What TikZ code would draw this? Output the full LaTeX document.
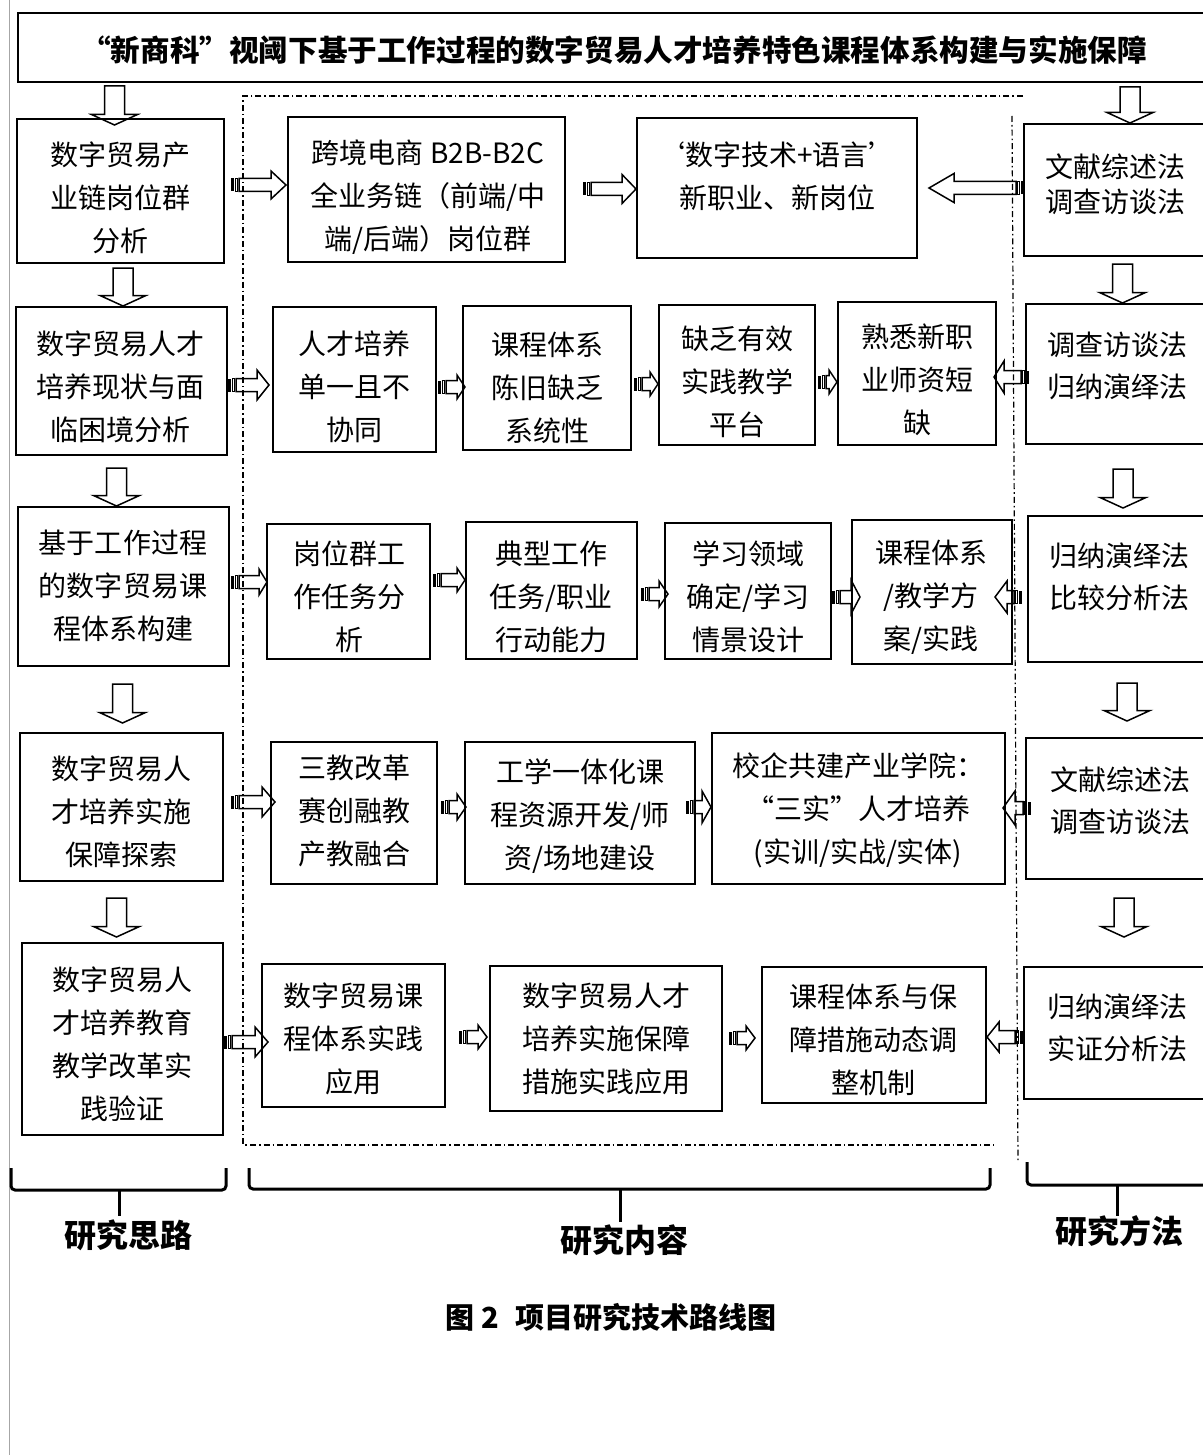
\documentclass[tikz,border=0pt]{standalone}
\usepackage{fontspec}
\setmainfont{Noto Sans CJK SC}
\usetikzlibrary{calc}
\newcommand\bx[5]{\node[box, minimum width={(#4-#2)*0.5pt}, minimum height={(#5-#3)*0.5pt}] (#1) at ({(#2+#4)/2},{(#3+#5)/2}) {};}
% down block arrow: src tgt xc topoff tipoff
\newcommand\darr[5]{%
 \path let \p1=(#1.south), \p2=(#2.north) in ({#3*0.5pt},{\y1-(#4)*0.5pt}) coordinate (s) ({#3*0.5pt},{\y2-(#5)*0.5pt}) coordinate (t);
 \draw[blk] ($(s)+(-10,0)$) -- ($(t)+(-10,-10.5)$) -- ($(t)+(-23,-10.5)$) -- (t) -- ($(t)+(23,-10.5)$) -- ($(t)+(10,-10.5)$) -- ($(s)+(10,0)$) -- cycle;}
% right striped arrow: src tgt y startoff tipoff hh hl
\newcommand\rarr[7]{%
 \path let \p1=(#1.east), \p2=(#2.west) in ({\x1+(#4)*0.5pt},{-(#3)*0.5pt}) coordinate (s) ({\x2+(#5)*0.5pt},{-(#3)*0.5pt}) coordinate (t);
 \fill ($(s)+(0,-6.5)$) rectangle ($(s)+(3,6.5)$);
 \draw[blk] ($(s)+(4.5,-6.5)$) rectangle ($(s)+(6.5,6.5)$);
 \draw[blk] ($(s)+(8,-6.5)$) -- ($(t)+(-#7,-6.5)$) -- ($(t)+(-#7,-#6)$) -- (t) -- ($(t)+(-#7,#6)$) -- ($(t)+(-#7,6.5)$) -- ($(s)+(8,6.5)$) -- cycle;}
% left striped arrow
\newcommand\larr[7]{%
 \path let \p1=(#1.west), \p2=(#2.east) in ({\x1+(#4)*0.5pt},{-(#3)*0.5pt}) coordinate (s) ({\x2+(#5)*0.5pt},{-(#3)*0.5pt}) coordinate (t);
 \fill ($(s)+(-3,-6.5)$) rectangle ($(s)+(0,6.5)$);
 \draw[blk] ($(s)+(-6.5,-6.5)$) rectangle ($(s)+(-4.5,6.5)$);
 \draw[blk] ($(s)+(-8,-6.5)$) -- ($(t)+(#7,-6.5)$) -- ($(t)+(#7,-#6)$) -- (t) -- ($(t)+(#7,#6)$) -- ($(t)+(#7,6.5)$) -- ($(s)+(-8,6.5)$) -- cycle;}
\begin{document}
\begin{tikzpicture}[x=0.5pt,y=-0.5pt,
  box/.style={draw=black, line width=1pt, inner sep=0pt},
  txt/.style={align=center, font=\fontsize{14pt}{21.5pt}\selectfont, inner sep=0pt},
  rtxt/.style={align=center, font=\fontsize{14pt}{21pt}\selectfont, inner sep=0pt},
  blk/.style={draw=black, line width=0.75pt, line join=miter},
  frame/.style={line width=0.6pt, dash pattern=on 3pt off 1.5pt on 0.8pt off 1.5pt},
  brace/.style={line width=1.5pt, rounded corners=2pt},
  lab/.style={font=\fontsize{16pt}{18pt}\selectfont\bfseries, inner sep=0pt}]
\useasboundingbox (0,0) rectangle (1203,1455);
\fill[white] (0,0) rectangle (1203,1455);
\clip (0,0) rectangle (1203,1455);
\draw[gray!70, line width=0.6pt] (9.5,0) -- (9.5,1455);

% dash-dot frame
\draw[frame] (1023,96) -- (243,96) -- (243,1145) -- (994,1145);
\draw[frame] (1012,116) -- (1018,1162);

% boxes
\bx{T}{18}{13}{1210}{82}
\bx{L1}{17}{119}{224}{263}
\bx{L2}{16}{307}{227}{455}
\bx{L3}{18}{507}{229}{666}
\bx{L4}{20}{733}{223}{881}
\bx{L5}{22}{943}{223}{1135}
\bx{M11}{288}{117}{565}{262}
\bx{M12}{637}{118}{917}{258}
\bx{M21}{273}{307}{436}{452}
\bx{M22}{463}{306}{631}{450}
\bx{M23}{659}{305}{815}{445}
\bx{M24}{838}{302}{996}{445}
\bx{M31}{267}{524}{430}{659}
\bx{M32}{466}{522}{637}{659}
\bx{M33}{665}{523}{831}{659}
\bx{M34}{852}{520}{1012}{664}
\bx{M41}{271}{742}{437}{884}
\bx{M42}{465}{742}{695}{884}
\bx{M43}{712}{733}{1005}{884}
\bx{M51}{262}{964}{445}{1107}
\bx{M52}{490}{966}{722}{1111}
\bx{M53}{762}{967}{986}{1103}
\bx{R1}{1024}{124}{1210}{256}
\bx{R2}{1026}{304}{1210}{444}
\bx{R3}{1028}{516}{1210}{662}
\bx{R4}{1026}{738}{1210}{879}
\bx{R5}{1024}{967}{1210}{1099}

% texts
\node[txt, font=\fontsize{14.8pt}{16pt}\selectfont\bfseries] (Tt) at (614,50) {“新商科”视阈下基于工作过程的数字贸易人才培养特色课程体系构建与实施保障};
\node[txt] (L1t) at (120,198) {数字贸易产\\业链岗位群\\分析};
\node[txt] (L2t) at (120,387) {数字贸易人才\\培养现状与面\\临困境分析};
\node[txt] (L3t) at (123,586) {基于工作过程\\的数字贸易课\\程体系构建};
\node[txt] (L4t) at (121,812) {数字贸易人\\才培养实施\\保障探索};
\node[txt] (L5t) at (122,1044) {数字贸易人\\才培养教育\\教学改革实\\践验证};
\node[txt] (M11t) at (428,197) {跨境电商 B2B-B2C\\全业务链（前端/中\\端/后端）岗位群};
\node[txt] (M12t) at (777,176) {‘数字技术+语言’\\新职业、新岗位};
\node[txt] (M21t) at (354,387) {人才培养\\单一且不\\协同};
\node[txt] (M22t) at (547,388) {课程体系\\陈旧缺乏\\系统性};
\node[txt] (M23t) at (737,382) {缺乏有效\\实践教学\\平台};
\node[txt] (M24t) at (917,380) {熟悉新职\\业师资短\\缺};
\node[txt] (M31t) at (349,597) {岗位群工\\作任务分\\析};
\node[txt] (M32t) at (551,597) {典型工作\\任务/职业\\行动能力};
\node[txt] (M33t) at (748,597) {学习领域\\确定/学习\\情景设计};
\node[txt] (M34t) at (931,597) {课程体系\\/教学方\\案/实践};
\node[txt] (M41t) at (354,811) {三教改革\\赛创融教\\产教融合};
\node[txt] (M42t) at (580,816) {工学一体化课\\程资源开发/师\\资/场地建设};
\node[txt] (M43t) at (858,810) {校企共建产业学院：\\“三实”人才培养\\(实训/实战/实体)};
\node[txt] (M51t) at (353,1039) {数字贸易课\\程体系实践\\应用};
\node[txt] (M52t) at (606,1039) {数字贸易人才\\培养实施保障\\措施实践应用};
\node[txt] (M53t) at (873,1040) {课程体系与保\\障措施动态调\\整机制};
\node[rtxt, font=\fontsize{14pt}{17.5pt}\selectfont] (R1t) at (1115,184) {文献综述法\\调查访谈法};
\node[rtxt] (R2t) at (1117,366) {调查访谈法\\归纳演绎法};
\node[rtxt] (R3t) at (1119,577) {归纳演绎法\\比较分析法};
\node[rtxt] (R4t) at (1120,801) {文献综述法\\调查访谈法};
\node[rtxt] (R5t) at (1117,1028) {归纳演绎法\\实证分析法};

% down arrows
\darr{T}{L1}{114.5}{3}{7}
\darr{L1}{L2}{123}{4}{0}
\darr{L2}{L3}{116.5}{12}{0}
\darr{L3}{L4}{122.5}{17}{-9}
\darr{L4}{L5}{116.5}{16}{-5}
\darr{T}{R1}{1130}{4}{0}
\darr{R1}{R2}{1122.5}{7}{0}
\darr{R2}{R3}{1123}{24}{-7}
\darr{R3}{R4}{1127}{20}{-16}
\darr{R4}{R5}{1124}{18}{-29}

% right arrows
\rarr{L1}{M11}{185}{6}{-1}{14}{15}
\rarr{M11}{M12}{189}{17}{0}{14.5}{14}
\rarr{L2}{M21}{385}{0}{-3}{15}{12}
\rarr{M21}{M22}{387}{1}{3}{12}{8}
\rarr{M22}{M23}{384}{2}{0}{12}{8}
\rarr{M23}{M24}{382}{2}{0}{12}{8}
\rarr{L3}{M31}{582}{1}{1}{13}{8}
\rarr{M31}{M32}{580}{2}{0}{12}{8}
\rarr{M32}{M33}{594}{3}{4}{13}{9}
\rarr{M33}{M34}{597}{0}{9}{17}{9}
\rarr{L4}{M41}{802}{7}{5}{15}{13}
\rarr{M41}{M42}{807}{3}{2}{13}{9}
\rarr{M42}{M43}{807}{-10}{0}{16}{9}
\rarr{L5}{M51}{1042}{0}{7}{15}{13}
\rarr{M51}{M52}{1037}{13}{-2}{12}{9}
\rarr{M52}{M53}{1038}{6}{-6}{12}{9}

% left arrows
\larr{R1}{M12}{188}{1}{11}{14.5}{25}
\larr{R2}{M24}{377}{4}{-3}{16}{10}
\larr{R3}{M34}{597}{-5}{-18}{16}{12}
\larr{R4}{M43}{808}{6}{-3}{17}{12}
\larr{R5}{M53}{1037}{0}{0}{15}{12}

% braces
\draw[brace] (11,1168) -- (11,1190) -- (226,1190) -- (226,1168);
\draw[line width=1.5pt] (119,1190) -- (119,1216);
\draw[brace] (249,1168) -- (249,1189) -- (990,1189) -- (990,1168);
\draw[line width=1.5pt] (620,1189) -- (620,1222);
\draw[brace] (1027,1162) -- (1027,1185) -- (1215,1185);
\draw[line width=1.5pt] (1117,1185) -- (1117,1216);

\node[lab] (lab1) at (128,1235) {研究思路};
\node[lab] (lab2) at (624,1240) {研究内容};
\node[lab] (lab3) at (1119,1231) {研究方法};
\node[inner sep=0pt, font=\fontsize{14.5pt}{16pt}\selectfont\bfseries] (cap) at (611,1317) {图\hspace{0.25em}2\hspace{0.55em}项目研究技术路线图};
\end{tikzpicture}
\end{document}
